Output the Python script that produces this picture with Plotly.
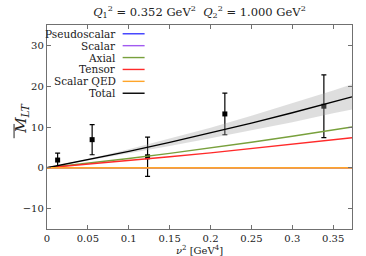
import plotly.graph_objects as go

# ---- data ----
nu2_grid = [0.0, 0.05, 0.10, 0.15, 0.20, 0.25, 0.30, 0.35, 0.373]
pseudoscalar = [0, 0, 0, 0, 0, 0, 0, 0, 0]
scalar = [0, 0, 0, 0, 0, 0, 0, 0, 0]
axial = [0.0, 1.11, 2.28, 3.53, 4.86, 6.25, 7.72, 9.25, 10.0]
tensor = [0.0, 0.86, 1.75, 2.69, 3.66, 4.68, 5.74, 6.84, 7.35]
scalar_qed = [0, 0, 0, 0, 0, 0, 0, 0, 0]
total = [0.0, 1.96, 4.03, 6.22, 8.53, 10.95, 13.49, 16.14, 17.4]
total_err = [0.0, 0.2, 0.5, 0.9, 1.3, 1.8, 2.3, 2.8, 3.1]

data_nu2 = [0.013, 0.0552, 0.123, 0.2175, 0.3386]
data_val = [1.9, 6.9, 2.7, 13.2, 15.1]
data_err = [1.7, 3.7, 4.8, 5.1, 7.7]

names = ["Pseudoscalar", "Scalar", "Axial", "Tensor", "Scalar QED", "Total"]
colors = ["#3b3bff", "#a15bf0", "#78a03c", "#ff2a2a", "#ffa52a", "#000000"]
widths = [1.4, 1.4, 1.4, 1.4, 1.8, 1.4]
series = [pseudoscalar, scalar, axial, tensor, scalar_qed, total]

FONT = "DejaVu Serif, Liberation Serif, serif"

fig = go.Figure()

# data points (drawn under the band)
fig.add_trace(go.Scatter(
    x=data_nu2, y=data_val, mode="markers",
    marker=dict(symbol="square", size=5, color="black"),
    error_y=dict(type="data", array=data_err, color="black", thickness=1.2, width=2.5),
    showlegend=False, hoverinfo="skip"))

# uncertainty band of total
upper = [t + e for t, e in zip(total, total_err)]
lower = [t - e for t, e in zip(total, total_err)]
fig.add_trace(go.Scatter(x=nu2_grid, y=upper, mode="lines", line=dict(width=0),
                         showlegend=False, hoverinfo="skip"))
fig.add_trace(go.Scatter(x=nu2_grid, y=lower, mode="lines", line=dict(width=0),
                         fill="tonexty", fillcolor="rgba(160,160,160,0.35)",
                         showlegend=False, hoverinfo="skip"))

# curves
order = [0, 1, 2, 3, 5, 4]
for i in order:
    fig.add_trace(go.Scatter(x=nu2_grid, y=series[i], mode="lines", name=names[i],
                             line=dict(color=colors[i], width=widths[i]), showlegend=False))

# hand-made legend (text right-aligned, sample line to the right)
annotations = []
shapes = []
y0 = 0.957
dy = 0.0583
for k, (nm, c) in enumerate(zip(names, colors)):
    yy = y0 - k * dy
    annotations.append(dict(x=0.232, y=yy, xref="paper", yref="paper", text=nm,
                            showarrow=False, xanchor="right", yanchor="middle",
                            font=dict(family=FONT, size=10.5, color="#222")))
    shapes.append(dict(type="line", xref="paper", yref="paper",
                       x0=0.248, x1=0.32, y0=yy, y1=yy,
                       line=dict(color=c, width=1.4)))

# y-axis title (rotated) with overline on M
annotations.append(dict(x=-0.082, y=0.54, xref="paper", yref="paper",
                        text="<i>M</i><sub><i>LT</i></sub>", textangle=-90,
                        showarrow=False, xanchor="center", yanchor="middle",
                        font=dict(family=FONT, size=15, color="#222")))
shapes.append(dict(type="line", xref="paper", yref="paper",
                   x0=-0.108, x1=-0.108, y0=0.445, y1=0.515,
                   line=dict(color="#222", width=1)))

fig.update_layout(
    width=366, height=256,
    margin=dict(l=47, r=14, t=25, b=27, autoexpand=False),
    paper_bgcolor="white", plot_bgcolor="white",
    font=dict(family=FONT, size=10, color="#222"),
    title=dict(text="<i>Q</i><sub>1</sub><sup>2</sup> = 0.352 GeV<sup>2</sup>  <i>Q</i><sub>2</sub><sup>2</sup> = 1.000 GeV<sup>2</sup>",
               x=0.545, xanchor="center", y=0.955, yanchor="middle",
               font=dict(family=FONT, size=11.5, color="#222")),
    annotations=annotations, shapes=shapes, showlegend=False,
)
fig.update_xaxes(range=[0, 0.373], dtick=0.05, tick0=0, ticks="inside", ticklen=4,
                 showline=True, linecolor="#707070", linewidth=1.3, mirror="ticks",
                 tickcolor="#707070", showgrid=False, zeroline=False, automargin=False,
                 title=dict(text="<i>ν</i><sup>2</sup> [GeV<sup>4</sup>]", standoff=0,
                            font=dict(family=FONT, size=10)),
                 tickfont=dict(family=FONT, size=10))
fig.update_yaxes(range=[-15, 35], dtick=10, tick0=0, ticks="inside", ticklen=4,
                 showline=True, linecolor="#707070", linewidth=1.3, mirror="ticks",
                 tickcolor="#707070", showgrid=False, zeroline=False, automargin=False,
                 tickfont=dict(family=FONT, size=10))

fig.write_html("out.html", config={"displayModeBar": False},
               post_script="document.body.style.margin='0';document.body.style.padding='0';")
